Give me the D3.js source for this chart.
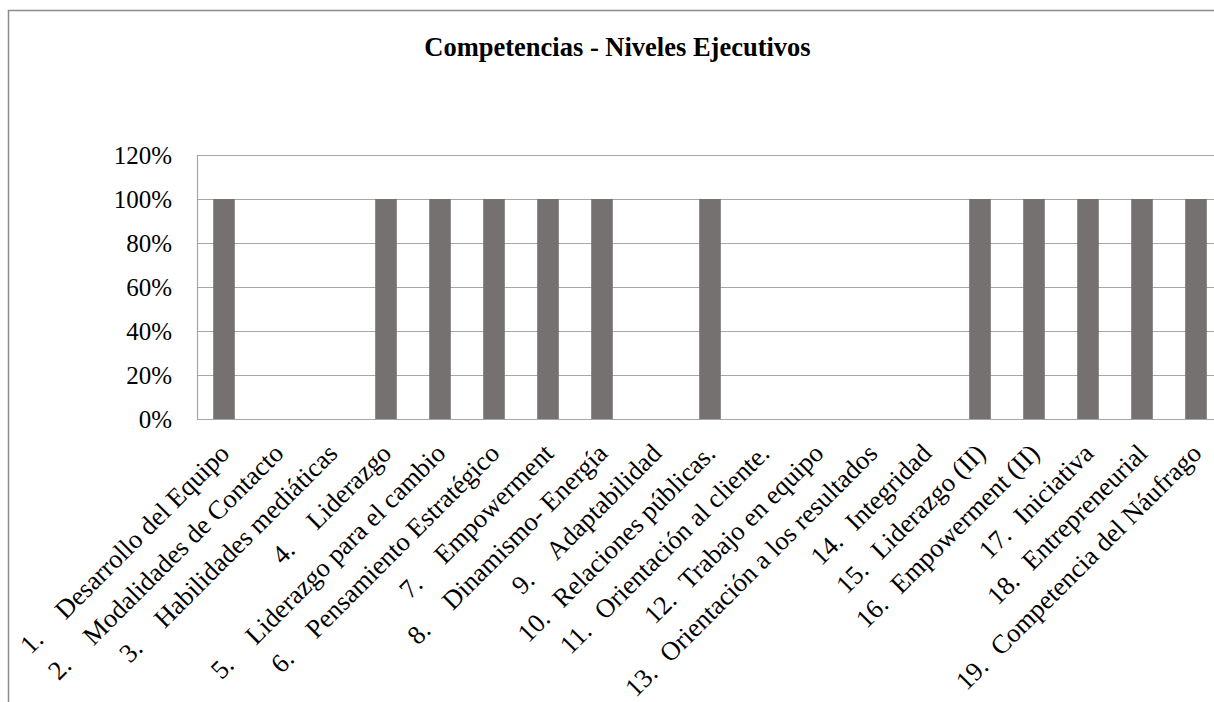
<!DOCTYPE html>
<html><head><meta charset="utf-8">
<script src="https://cdn.jsdelivr.net/npm/d3@7"></script>
<style>
html,body{margin:0;padding:0;background:#fff;}
svg{display:block;}
text{font-family:"Liberation Serif","Times New Roman",Tinos,"DejaVu Serif",serif;fill:#000;}
</style></head>
<body><svg id="c" width="1214" height="702"></svg>
<script>
const numbers = ["1.","2.","3.","4.","5.","6.","7.","8.","9.","10.","11.","12.","13.","14.","15.","16.","17.","18.","19."];
const categories = ["Desarrollo del Equipo","Modalidades de Contacto","Habilidades mediáticas","Liderazgo","Liderazgo para el cambio","Pensamiento Estratégico","Empowerment","Dinamismo- Energía","Adaptabilidad","Relaciones públicas.","Orientación al cliente.","Trabajo en equipo","Orientación a los resultados","Integridad","Liderazgo (II)","Empowerment (II)","Iniciativa","Entrepreneurial","Competencia del Náufrago"];
const values = [1,0,0,1,1,1,1,1,0,1,0,0,0,0,1,1,1,1,1];
const yTicks = [0,0.2,0.4,0.6,0.8,1.0,1.2];
const title = "Competencias - Niveles Ejecutivos";

const FONT = '"Liberation Serif","Times New Roman",Tinos,"DejaVu Serif",serif';
const svg = d3.select("#c");
const L = 197, T = 155, B = 419, band = 54;
const R = L + band * categories.length;

svg.append("rect").attr("x",8.5).attr("y",10.5).attr("width",1400).attr("height",900)
  .attr("fill","none").attr("stroke","#8c8c8c").attr("stroke-width",1.5);

svg.append("text").attr("x",617.5).attr("y",56).attr("text-anchor","middle").attr("font-family",FONT)
  .attr("font-weight","bold").attr("font-size",26.5).text(title);

const x = d3.scaleBand().domain(d3.range(categories.length)).range([L,R]).paddingInner(0.6).paddingOuter(0.3);
const y = d3.scaleLinear().domain([0,1.2]).range([B,T]);

svg.append("g").selectAll("line").data(yTicks).join("line")
  .attr("x1",L).attr("x2",R).attr("y1",d=>Math.round(y(d))+0.5).attr("y2",d=>Math.round(y(d))+0.5)
  .attr("stroke","#a6a6a6").attr("stroke-width",1.2);
svg.append("line").attr("x1",L+0.5).attr("x2",L+0.5).attr("y1",T).attr("y2",B+0.5)
  .attr("stroke","#a6a6a6").attr("stroke-width",1.2);

svg.append("g").selectAll("rect").data(values).join("rect")
  .attr("x",(d,i)=>x(i)).attr("width",x.bandwidth())
  .attr("y",d=>y(d)).attr("height",d=>y(0)-y(d)).attr("fill","#767171");

const yAxis = d3.axisLeft(y).tickValues(yTicks).tickFormat(d3.format(".0%")).tickSize(0).tickPadding(25);
const ga = svg.append("g").attr("transform",`translate(${L},0)`).call(yAxis).attr("font-family",FONT);
ga.select(".domain").remove();
ga.selectAll("text").attr("font-size",25).attr("font-family",FONT).attr("fill","#000").attr("dy","0.32em");

const xc = i => L + band*(i+0.5);
const slot = 49;
const lg = svg.append("g").attr("font-family",FONT);
categories.forEach((c,i)=>{
  const g = lg.append("g").attr("transform",`translate(${xc(i)+7},455) rotate(-45)`);
  const t = g.append("text").attr("text-anchor","end").attr("font-size",26.5).attr("font-family",FONT).attr("x",0).attr("y",0).text(c);
  const w = t.node().getComputedTextLength();
  g.append("text").attr("text-anchor","start").attr("font-size",26.5).attr("font-family",FONT).attr("x",-(w+slot)).attr("y",0).text(numbers[i]);
});
</script></body></html>
